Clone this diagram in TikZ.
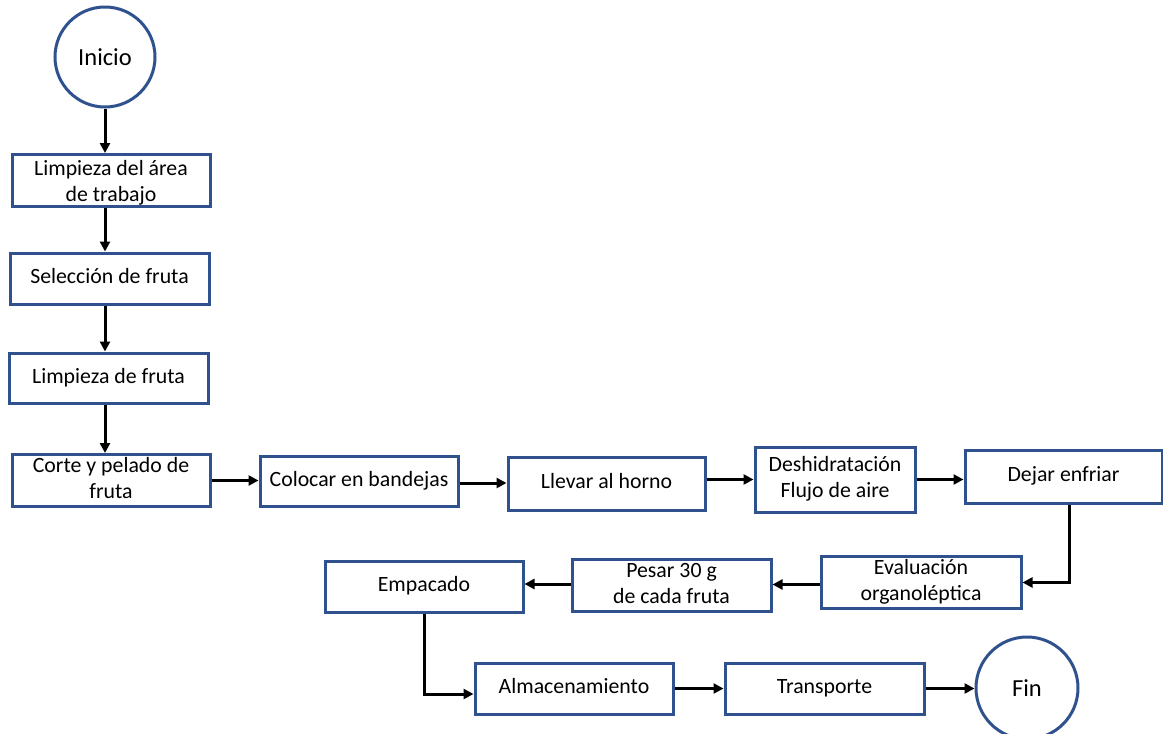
\documentclass[tikz,border=0pt]{standalone}
\usepackage{fontspec}
\setmainfont{Carlito}
\usetikzlibrary{arrows.meta,calc}
\definecolor{boxblue}{RGB}{47,82,143}
\newcommand\fcTop{\rule{0pt}{18pt}}
\newcommand\fcBot{\rule[-8pt]{0pt}{8pt}}
\newcommand\fcTopB{\rule{0pt}{21pt}}
\newcommand\fcBotB{\rule[-5pt]{0pt}{5pt}}
\begin{document}
\begin{tikzpicture}[x=1pt,y=-1pt,
  stepbox/.style={draw=boxblue,line width=3pt,fill=white,inner sep=0pt,align=center,
    font=\fontsize{21.8}{26}\selectfont,minimum width=198pt,minimum height=51pt},
  endcircle/.style={draw=boxblue,line width=3pt,fill=white,circle,inner sep=0pt,
    minimum size=100pt,font=\fontsize{24.5}{28}\selectfont},
  conn/.style={draw=black,line width=3pt,-{Triangle[length=10pt,width=10pt]}}]
\useasboundingbox (0,0) rectangle (1163,734);
\node[endcircle] (ini) at (105,57) {Inicio};
\node[stepbox] (lim) at (111,180.5) {\fcTopB Limpieza del área\\de trabajo\fcBotB};
\node[stepbox,minimum width=199pt] (sel) at (109.5,278.5) {\fcTop Selección de fruta\fcBot};
\node[stepbox,minimum width=199pt,minimum height=50pt] (lf) at (108.5,378) {\fcTop Limpieza de fruta\fcBot};
\node[stepbox] (cor) at (111,480.5) {\fcTop Corte y pelado de\\fruta\fcBot};
\node[stepbox,minimum height=50pt] (col) at (359,481) {\fcTop Colocar en bandejas\fcBot};
\node[stepbox,minimum width=197pt,minimum height=53pt] (lle) at (606.5,483.5) {\fcTop Llevar al horno\fcBot};
\node[stepbox,minimum width=160pt,minimum height=65pt] (des) at (835,479.5) {\fcTop Deshidratación\\Flujo de aire\fcBot};
\node[stepbox,minimum width=197pt,minimum height=53pt] (dej) at (1063.5,476.5) {\fcTop Dejar enfriar\fcBot};
\node[stepbox,minimum width=200pt] (eva) at (921,582.5) {\fcTop Evaluación\\organoléptica\fcBot};
\node[stepbox,minimum width=199pt,minimum height=52pt] (pes) at (671.5,585) {\fcTop Pesar 30 g\\de cada fruta\fcBot};
\node[stepbox] (emp) at (424,586.5) {\fcTop Empacado\fcBot};
\node[stepbox] (alm) at (574,688.5) {\fcTop Almacenamiento\fcBot};
\node[stepbox,minimum width=199pt] (tra) at (824.5,688.5) {\fcTop Transporte\fcBot};
\node[endcircle,minimum size=102pt] (fin) at (1027,688) {Fin};
% connectors
\draw[conn] (ini.south) -- (ini.south |- lim.north);
\draw[conn] (ini.south |- lim.south) -- (ini.south |- sel.north);
\draw[conn] (ini.south |- sel.south) -- (ini.south |- lf.north);
\draw[conn] (ini.south |- lf.south) -- (ini.south |- cor.north);
\draw[conn] (cor.east) -- (cor.east -| col.west);
\draw[conn] ($(col.east)+(0,2)$) -- ($(col.east -| lle.west)+(0,2)$);
\draw[conn] ($(lle.east)+(0,-4)$) -- ($(lle.east -| des.west)+(0,-4)$);
\draw[conn] (des.east) -- (des.east -| dej.west);
\draw[conn] ($(dej.south)+(5.5,0)$) |- (eva.east);
\draw[conn] ($(eva.west)+(0,2)$) -- ($(eva.west -| pes.east)+(0,2)$);
\draw[conn] ($(pes.west)+(0,-1)$) -- ($(pes.west -| emp.east)+(0,-1)$);
\draw[conn] (emp.south) |- ($(alm.west)+(0,5.5)$);
\draw[conn] (alm.east) -- (tra.west);
\draw[conn] (tra.east) -- (tra.east -| fin.west);
\end{tikzpicture}
\end{document}
